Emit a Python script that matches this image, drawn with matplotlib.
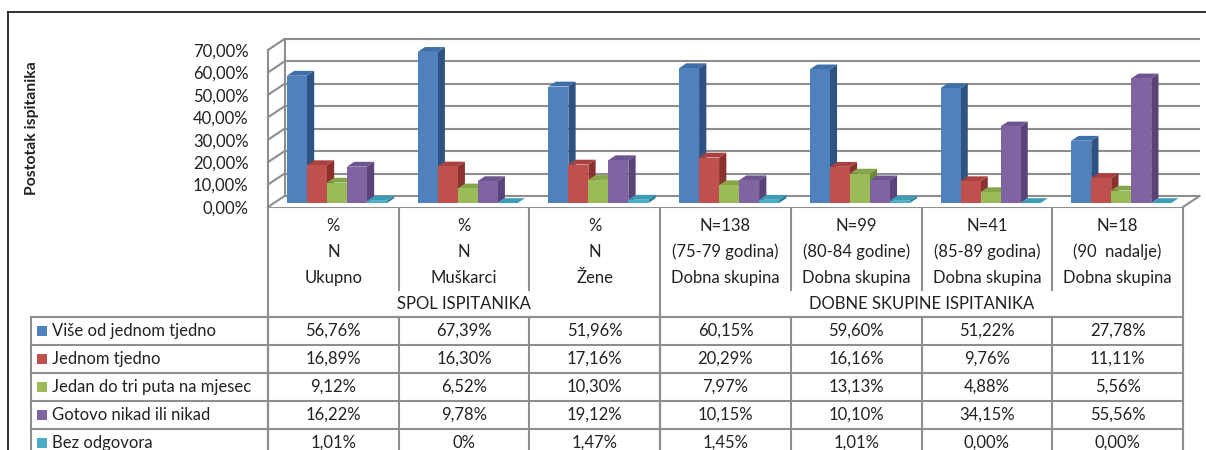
import matplotlib
matplotlib.use('Agg')
import matplotlib.pyplot as plt
from matplotlib.patches import Polygon, Rectangle
from matplotlib.ticker import FixedLocator, FuncFormatter

# ---------------- data ----------------
series = ['Više od jednom tjedno', 'Jednom tjedno', 'Jedan do tri puta na mjesec',
          'Gotovo nikad ili nikad', 'Bez odgovora']
head1 = ['%', '%', '%', 'N=138', 'N=99', 'N=41', 'N=18']
head2 = ['N', 'N', 'N', '(75-79 godina)', '(80-84 godine)', '(85-89 godina)', '(90  nadalje)']
head3 = ['Ukupno', 'Muškarci', 'Žene', 'Dobna skupina', 'Dobna skupina',
         'Dobna skupina', 'Dobna skupina']
groups = ['SPOL ISPITANIKA', 'DOBNE SKUPINE ISPITANIKA']
group_spans = [(0, 3), (3, 7)]
vise = ['56,76%', '67,39%', '51,96%', '60,15%', '59,60%', '51,22%', '27,78%']
jednom = ['16,89%', '16,30%', '17,16%', '20,29%', '16,16%', '9,76%', '11,11%']
jedan_do_tri = ['9,12%', '6,52%', '10,30%', '7,97%', '13,13%', '4,88%', '5,56%']
gotovo_nikad = ['16,22%', '9,78%', '19,12%', '10,15%', '10,10%', '34,15%', '55,56%']
bez_odgovora = ['1,01%', '0%', '1,47%', '1,45%', '1,01%', '0,00%', '0,00%']
yticks = [0, 10, 20, 30, 40, 50, 60, 70]
ytitle = 'Postotak ispitanika'

table_rows = [vise, jednom, jedan_do_tri, gotovo_nikad, bez_odgovora]
values = [[float(s.strip('%').replace(',', '.')) for s in row] for row in table_rows]

# ---------------- style ----------------
front_c = ['#4F81BD', '#C0504D', '#9BBB59', '#8064A2', '#4BACC6']
side_c = ['#2E5282', '#8A302E', '#6C8A36', '#594378', '#2B7E94']
top_c = ['#3F6FA8', '#A9423F', '#87A64A', '#6D5591', '#3B9CB6']
grid_c = '#8E8E8E'
line_c = '#8E8E8E'
txt_c = '#222222'
FS = 12

W, H = 1206, 450
plt.rcParams['font.family'] = ['Lato', 'DejaVu Sans']
fig = plt.figure(figsize=(W / 100, H / 100), dpi=100)
fig.patch.set_facecolor('white')

# overlay axes in pixel coordinates for the frame and data table
ov = fig.add_axes([0, 0, 1, 1])
ov.set_xlim(0, W)
ov.set_ylim(H, 0)
ov.axis('off')
ov.patch.set_visible(False)

# chart axes: x in category units, y in percent
X0, X7 = 268, 1183
Y0, Y70 = 207, 50
ax = fig.add_axes([X0 / W, (H - Y0) / H, (X7 - X0) / W, (Y0 - Y70) / H])
ncat = len(head1)
ax.set_xlim(0, ncat)
ax.set_ylim(0, 70)
for s in ax.spines.values():
    s.set_visible(False)
ax.patch.set_visible(False)
ax.set_xticks([])
ax.yaxis.set_major_locator(FixedLocator(yticks))
ax.yaxis.set_major_formatter(FuncFormatter(lambda v, p: f'{v:.2f}'.replace('.', ',') + '%'))
ax.tick_params(axis='y', length=0, pad=14, labelsize=FS, labelcolor=txt_c)

sx = (X7 - X0) / ncat          # px per category
sy = (Y0 - Y70) / 70.0         # px per percent
DX = 16.5 / sx                 # full wall depth, category units
DY = 11.0 / sy                 # full wall depth, percent units

# walls / floor
floor = Polygon([(0, 0), (ncat, 0), (ncat + DX, DY), (DX, DY)], closed=True,
                facecolor='white', edgecolor='none', clip_on=False, zorder=1)
ax.add_patch(floor)
for v in yticks:
    ax.plot([DX, ncat + DX], [v + DY, v + DY], color=grid_c, lw=1.5, clip_on=False, zorder=2,
            solid_capstyle='butt')
    ax.plot([0, DX], [v, v + DY], color=grid_c, lw=1.5, clip_on=False, zorder=2)
ax.plot([0, 0], [0, 70], color=grid_c, lw=1.5, clip_on=False, zorder=2)
ax.plot([DX, DX], [DY, 70 + DY], color=grid_c, lw=1.5, clip_on=False, zorder=2)
ax.plot([ncat, ncat + DX], [0, DY], color=grid_c, lw=1.5, clip_on=False, zorder=2)

# bars
z0, z1 = 0.36, 0.80
bw = 20.0 / sx
boff = 13.0 / sx
for i in range(ncat):
    for j in range(len(series)):
        v = values[j][i]
        x = i + boff + j * bw + z0 * DX
        b = z0 * DY
        ddx = (z1 - z0) * DX
        ddy = (z1 - z0) * DY
        zo = 3 + i * 0.01 + j * 0.001
        side = Polygon([(x + bw, b), (x + bw + ddx, b + ddy), (x + bw + ddx, b + v + ddy), (x + bw, b + v)],
                       closed=True, facecolor=side_c[j], edgecolor='none', clip_on=False, zorder=zo)
        top = Polygon([(x, b + v), (x + bw, b + v), (x + bw + ddx, b + v + ddy), (x + ddx, b + v + ddy)],
                      closed=True, facecolor=top_c[j], edgecolor='none', clip_on=False, zorder=zo)
        ax.add_patch(side)
        ax.add_patch(top)
        if v > 0:
            fr = Rectangle((x, b), bw, v, facecolor=front_c[j], edgecolor='none', clip_on=False, zorder=zo)
            ax.add_patch(fr)

# y-axis title
fig.text(32 / W, 1 - 128 / H, ytitle, rotation=90, ha='center', va='center',
         fontsize=11.3, fontweight='bold', color=txt_c)

# outer frame
ov.plot([8, 8], [12, H], color='#222222', lw=1.3)
ov.plot([8, W], [12, 12], color='#222222', lw=1.3)

# table
colx = [X0 + k * sx for k in range(ncat + 1)]
hdr_top, sub_bot, hdr_bot = Y0, 290, 317
row_h = 28.0
LX = 31
ov.plot([X0, X7], [hdr_top, hdr_top], color=line_c, lw=1.5)
for k, xk in enumerate(colx):
    full = k in (0, ncat) or any(k == a for a, b in group_spans)
    ov.plot([xk, xk], [hdr_top, H if full else sub_bot], color=line_c, lw=1.5)
for k in range(ncat):
    cx = (colx[k] + colx[k + 1]) / 2
    ov.text(cx, 226, head1[k], ha='center', va='center', fontsize=FS, color=txt_c)
    ov.text(cx, 252, head2[k], ha='center', va='center', fontsize=FS, color=txt_c)
    ov.text(cx, 278, head3[k], ha='center', va='center', fontsize=FS, color=txt_c)
for g, (a, b) in zip(groups, group_spans):
    ov.text((colx[a] + colx[b]) / 2, 304, g, ha='center', va='center', fontsize=FS, color=txt_c)

nrows = len(series)
for r in range(nrows + 1):
    y = hdr_bot + r * row_h
    ov.plot([LX, X7], [y, y], color=line_c, lw=1.5, clip_on=False)
for xk in [LX] + colx:
    ov.plot([xk, xk], [hdr_bot, H], color=line_c, lw=1.5)
for r in range(nrows):
    yc = hdr_bot + (r + 0.5) * row_h
    ov.add_patch(Rectangle((37, yc - 5), 10, 10, facecolor=front_c[r], edgecolor='none'))
    ov.text(52, yc, series[r], ha='left', va='center', fontsize=FS, color=txt_c)
    for k in range(ncat):
        cx = (colx[k] + colx[k + 1]) / 2
        ov.text(cx, yc, table_rows[r][k], ha='center', va='center', fontsize=FS, color=txt_c)

fig.savefig('out.png', dpi=100, facecolor='white')
